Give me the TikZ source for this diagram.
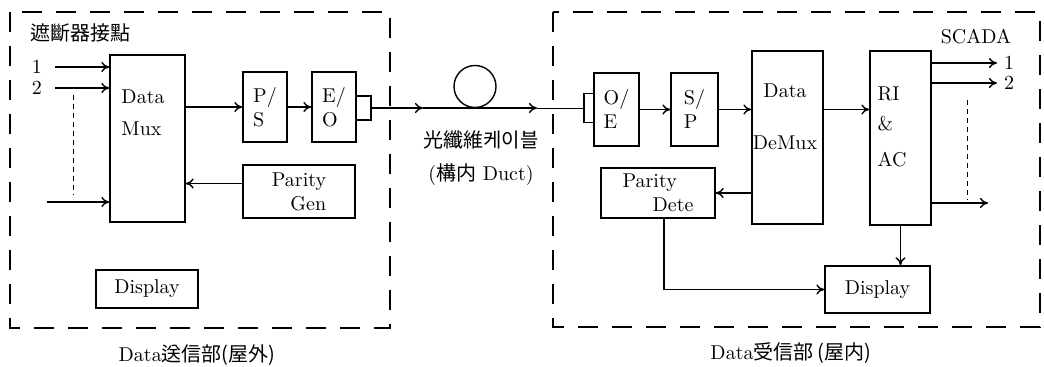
\documentclass[tikz,border=0pt]{standalone}
\usepackage{fontspec}
\newfontfamily\cjk{Noto Sans CJK KR}
\usetikzlibrary{arrows.meta}

\begin{document}
\begin{tikzpicture}[x=0.5pt,y=-0.5pt,>={To[length=4pt,width=5pt]},
 b/.style={draw=black,line width=0.7pt,inner sep=1pt,align=left},
 a/.style={->,line width=0.7pt},
 f/.style={draw,line width=0.8pt,dash pattern=on 10pt off 7pt},
 d/.style={line width=0.5pt,dash pattern=on 2.5pt off 2pt},
 k/.style={font=\cjk}]
 \useasboundingbox (0,0) rectangle (1044,367);
 % frames
 \draw[f] (10,12) rectangle (390,328);
 \draw[f] (553,12) rectangle (1040,327);
 \node (txcap) at (197,355) {Data{\cjk 送信部(屋外)}};
 \node (rxcap) at (791,353) {Data{\cjk 受信部 (屋内)}};
 % transmitter side
 \node[k] (brk) at (81,33) {遮斷器接點};
 \node (in1) at (37,67) {1};
 \node (in2) at (37,88) {2};
 \coordinate (in3) at (47,202);
 \coordinate (d1) at (73,95); \coordinate (d2) at (73,195);
 \node[b,minimum width=37.5pt,minimum height=83.5pt] (mux) at (147.5,138.5) {};
 \node[align=left] (muxt) at (143,113) {Data\\[4pt]Mux};
 \node[b,minimum width=22pt,minimum height=35pt] (ps) at (265,107) {P/\\S};
 \node[b,minimum width=22pt,minimum height=35pt] (eo) at (334,107) {E/\\O};
 \node[b,minimum width=7.5pt,minimum height=12pt] (eoc) at (363.5,108) {};
 \node[b,minimum width=56pt,minimum height=26.5pt,align=right] (pgen) at (299,191.5) {Parity\\Gen};
 \node[b,minimum width=51pt,minimum height=19pt] (disp1) at (147,289) {Display};
 % fibre
 \node[draw,circle,line width=0.7pt,minimum size=21pt,inner sep=0pt] (loop) at (475,86.5) {};
 \coordinate (f1) at (423,108); \coordinate (f2) at (537,108);
 \node[k] (cab) at (481,140) {光纖維케이블};
 \node (duct) at (481,175) {({\cjk 構内} Duct)};
 % receiver side
 \node[b,minimum width=5pt,minimum height=14.5pt] (oec) at (589,108) {};
 \node[b,minimum width=22.5pt,minimum height=36.5pt] (oe) at (616.5,109.5) {O/\\E};
 \node[b,minimum width=23.5pt,minimum height=36.5pt] (sp) at (694.5,109.5) {S/\\P};
 \node[b,minimum width=35.5pt,minimum height=86.5pt] (demux) at (787.5,137.5) {};
 \node[align=center] (demuxt) at (785,117) {Data\\[14pt]DeMux};
 \node[b,minimum width=30.5pt,minimum height=87pt] (ri) at (900.5,138) {};
 \node[align=left] (rit) at (892,127) {RI\\[3pt]\&\\[6pt]AC};
 \node (scada) at (976,37) {SCADA};
 \node (out1) at (1009,63) {1};
 \node (out2) at (1009,83) {2};
 \coordinate (out3) at (988,203);
 \coordinate (d3) at (967,100); \coordinate (d4) at (967,200);
 \node[b,minimum width=57pt,minimum height=25pt] (pdet) at (658,193) {Parity\\\hspace*{15pt}Dete};
 \node[b,minimum width=52.5pt,minimum height=23.5pt] (disp2) at (877.5,289.5) {Display};
 % connectors
 \draw[a] ([xshift=3pt]in1.east) -- (in1 -| mux.west);
 \draw[a] ([xshift=3pt]in2.east) -- (in2 -| mux.west);
 \draw[a] (in3) -- (in3 -| mux.west);
 \draw[d] (d1) -- (d2);
 \draw[a] (mux.east |- ps) -- (ps);
 \draw[a] (ps) -- (eo);
 \draw[a] ([yshift=4pt]pgen.west) -- ([yshift=4pt]pgen.west -| mux.east);
 \draw[a] (eoc) -- (f1);
 \draw[a] (f1) -- (f2);
 \draw (f2) -- (oec);
 \draw[a] (oe) -- (sp);
 \draw[a] (sp) -- (sp -| demux.west);
 \draw[a] (demux.east |- sp) -- (sp -| ri.west);
 \draw[a] (pdet.east -| demux.west) -- (pdet.east);
 \draw[a] (ri.east |- out1) -- (out1);
 \draw[a] (ri.east |- out2) -- (out2);
 \draw[a] (ri.east |- out3) -- (out3);
 \draw[d] (d3) -- (d4);
 \draw[a] (ri) -- (ri |- disp2.north);
 \draw[a] ([xshift=3pt]pdet.south) |- (disp2);
\end{tikzpicture}
\end{document}
